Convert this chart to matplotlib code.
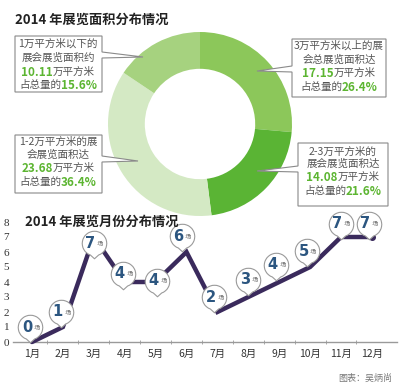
import numpy as np
import matplotlib
matplotlib.use("Agg")
import matplotlib.pyplot as plt
from matplotlib.path import Path
from matplotlib.patches import Polygon

plt.rcParams['font.family'] = ['Noto Sans CJK SC', 'DejaVu Sans']

# ---------- data ----------
area_labels = ["3万平方米以上", "2-3万平方米", "1-2万平方米", "1万平方米以下"]
area_values = [17.15, 14.08, 23.68, 10.11]
area_shares = [26.4, 21.6, 36.4, 15.6]
area_colors = ["#8cc75a", "#5ab434", "#d4e9c4", "#a6d27f"]

months = ["1月", "2月", "3月", "4月", "5月", "6月", "7月", "8月", "9月", "10月", "11月", "12月"]
counts = [0, 1, 7, 4, 4, 6, 2, 3, 4, 5, 7, 7]
# where each balloon label sits relative to its point (month offset, value offset)
label_dx = [-0.05, -0.05, 0.0, -0.05, 0.05, -0.15, -0.1, 0.0, -0.1, -0.1, 0.0, -0.1]
label_dy = [1.0, 1.0, -0.4, 0.55, 0.1, 1.05, 1.0, 1.15, 1.15, 1.05, 0.9, 0.9]

GREEN = "#5cb531"
GRAY_TXT = "#555555"

fig = plt.figure(figsize=(4, 3.92), dpi=100)

# overlay axes in pixel units (origin top-left)
ov = fig.add_axes([0, 0, 1, 1])
ov.set_xlim(0, 400)
ov.set_ylim(392, 0)
ov.axis("off")
ov.set_zorder(3)
ov.patch.set_alpha(0)

# ---------- donut ----------
cx, cy, R = 200, 124, 92
axp = fig.add_axes([(cx - R) / 400, (392 - cy - R) / 392, 2 * R / 400, 2 * R / 392])
axp.pie(area_shares, colors=area_colors, startangle=90, counterclock=False,
        radius=1, wedgeprops=dict(width=0.4, edgecolor="none"))
axp.set_xlim(-1, 1)
axp.set_ylim(-1, 1)
axp.set_aspect("equal")
axp.axis("off")

ov.text(15, 20, "2014 年展览面积分布情况", fontsize=9.5, fontweight="bold",
        color="#222222", va="center", ha="left")

renderer = fig.canvas.get_renderer()


def rich_line(xc, y, parts):
    texts, widths = [], []
    for s, c, fs, w in parts:
        t = ov.text(0, y, s, color=c, fontsize=fs, fontweight=w,
                    va="center", ha="left", zorder=5)
        widths.append(t.get_window_extent(renderer=renderer).width)
        texts.append(t)
    x = xc - sum(widths) / 2
    for t, w in zip(texts, widths):
        t.set_x(x)
        x += w


def callout(l, t, r, b, tip, side, lines, xc, ys):
    tx, ty = tip
    if side == "right":
        pts = [(l, t), (r, t), (r, ty - 5), (tx, ty), (r, ty + 1), (r, b), (l, b)]
    else:
        pts = [(l, t), (r, t), (r, b), (l, b), (l, ty + 1), (tx, ty), (l, ty - 5)]
    ov.add_patch(Polygon(pts, closed=True, facecolor="white",
                         edgecolor="#8a8a8a", lw=0.8, zorder=4))
    for parts, y in zip(lines, ys):
        rich_line(xc, y, parts)


def box_lines(l1, l2, val, share):
    n = "normal"
    return [
        [(l1, GRAY_TXT, 7.6, n)],
        [(l2, GRAY_TXT, 7.6, n)],
        [(f"{val:.2f}", GREEN, 8.4, "bold"), ("万平方米", GRAY_TXT, 7.6, n)],
        [("占总量的", GRAY_TXT, 7.6, n), (f"{share}%", GREEN, 8.4, "bold")],
    ]


callout(15, 36, 102, 92, (143, 57), "right",
        box_lines("1万平方米以下的", "展会展览面积约", area_values[3], area_shares[3]),
        58, [44, 58, 72, 85])
callout(292, 39, 386, 97, (257, 71), "left",
        box_lines("3万平方米以上的展", "会总展览面积达", area_values[0], area_shares[0]),
        339, [46, 60, 73, 87])
callout(15, 135, 102, 193, (138, 161), "right",
        box_lines("1-2万平方米的展", "会展览面积达", area_values[2], area_shares[2]),
        58, [142, 155, 168, 182])
callout(298, 143, 388, 206, (257, 171), "left",
        box_lines("2-3万平方米的", "展会展览面积达", area_values[1], area_shares[1]),
        343, [152, 164, 177, 191])

# ---------- monthly line ----------
x0, dxp = 32, 30.9
lo, hi = -0.6, 11.8
axl = fig.add_axes([(x0 + lo * dxp) / 400, (392 - 342) / 392,
                    (hi - lo) * dxp / 400, 120 / 392])
axl.set_zorder(2)
axl.patch.set_alpha(0)
x = np.arange(len(months))
axl.plot(x, counts, color="#3a2a5c", lw=3.2, solid_capstyle="round",
         solid_joinstyle="miter", zorder=3, clip_on=False)
axl.plot(x[-1], counts[-1], "o", color="#3a2a5c", ms=4, zorder=3, clip_on=False)

# balloon marker: circle with a small tail pointing down
arc = Path.arc(-70, 250)
verts = np.vstack([arc.vertices, [[0, -1.25]], arc.vertices[:1]])
codes = list(arc.codes) + [Path.LINETO, Path.CLOSEPOLY]
balloon = Path(verts, codes)
for i, c in enumerate(counts):
    bx, by = x[i] + label_dx[i], c + label_dy[i]
    axl.plot(bx, by, marker=balloon, ms=22, mfc="white", mec="#9a9a9a",
             mew=0.8, zorder=4, clip_on=False)
    axl.annotate(str(c), (bx, by), xytext=(-2.5, 0), textcoords="offset points",
                 ha="center", va="center", fontsize=10.5, fontweight="bold",
                 color="#2c5680", zorder=5, family="DejaVu Sans")
    axl.annotate("场", (bx, by), xytext=(4.5, -0.5), textcoords="offset points",
                 ha="center", va="center", fontsize=4.5, color="#666666", zorder=5)

axl.set_xlim(lo, hi)
axl.set_ylim(0, 8)
axl.set_yticks(range(9))
axl.set_yticklabels([str(v) for v in range(9)], family="Liberation Serif",
                    fontsize=8, color="#333333")
axl.set_xticks(x)
axl.set_xticklabels(months, fontsize=7.5, color="#333333")
axl.set_xticks(x[:-1] + 0.5, minor=True)
axl.tick_params(axis="x", which="major", length=0, pad=5)
axl.tick_params(axis="x", which="minor", length=3, direction="inout", color="#999999")
axl.tick_params(axis="y", length=0, pad=3)
for s in ["left", "right", "top"]:
    axl.spines[s].set_visible(False)
axl.spines["bottom"].set_color("#9a9a9a")
axl.spines["bottom"].set_linewidth(1)

ov.text(25, 222, "2014 年展览月份分布情况", fontsize=9.5, fontweight="bold",
        color="#222222", va="center", ha="left")
ov.text(392, 378, "图表：吴炳尚", fontsize=6.5, color="#777777", va="center", ha="right")

fig.savefig("out.png", dpi=100)
